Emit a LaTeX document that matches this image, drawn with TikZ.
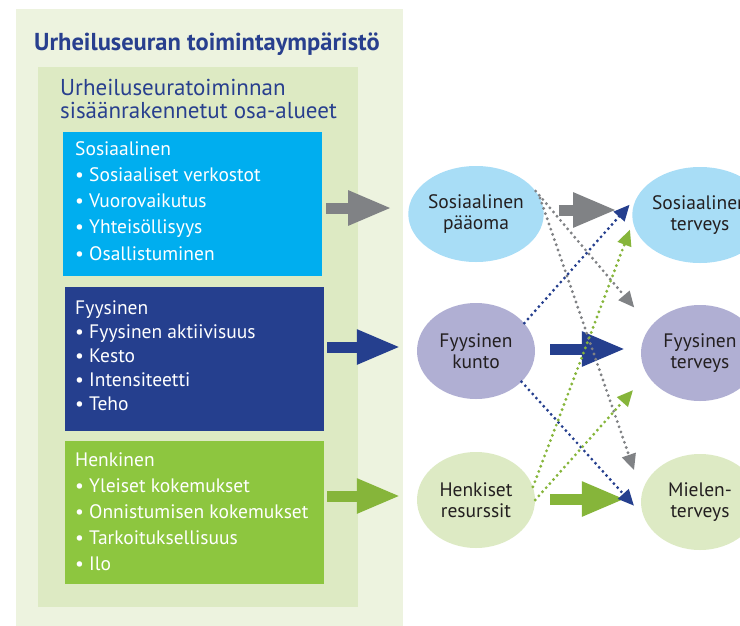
\documentclass[tikz,border=0pt]{standalone}
\usepackage{fontspec}
\setmainfont{PT Sans}
\usetikzlibrary{shapes.geometric,arrows.meta}
\definecolor{envbg}{HTML}{EDF3DF}
\definecolor{areabg}{HTML}{DDEAC3}
\definecolor{socblue}{HTML}{00AEEF}
\definecolor{physblue}{HTML}{253F8E}
\definecolor{mentgreen}{HTML}{8DC63F}
\definecolor{socell}{HTML}{A8DDF6}
\definecolor{physell}{HTML}{B0AFD3}
\definecolor{mentell}{HTML}{DDEAC4}
\definecolor{arrgray}{HTML}{808285}
\definecolor{arrgreen}{HTML}{86B53A}
\definecolor{titleblue}{HTML}{283F8E}
\definecolor{inktext}{HTML}{231F20}

\begin{document}
\begin{tikzpicture}[x=1pt,y=-1pt,
	panel/.style={rectangle,inner sep=0,anchor=north west},
	cattext/.style={anchor=base west,inner sep=0,align=left,text=white},
	ell/.style={ellipse,minimum width=118,minimum height=96,inner sep=0,align=center,text=inktext,font=\fontsize{19.5}{21}\selectfont},
	blockarrow/.style={line width=11pt,-{Triangle[length=44pt,width=32pt]}},
	dotarrow/.style={line width=3.2pt,line cap=round,dash pattern=on 0pt off 5.5pt,-{Triangle[length=16pt,width=14pt]}}]
	\useasboundingbox (0,0) rectangle (740,625);
	\node[panel,fill=envbg,minimum width=387,minimum height=620] (env) at (16,9) {};
	\node[panel,fill=areabg,minimum width=320,minimum height=540] (area) at (38,67) {};
	\node[anchor=base west,inner sep=0,text=titleblue,font=\bfseries\fontsize{24.5}{28}\selectfont] (title) at (34,50) {Urheiluseuran toimintaympäristö};
	\node[anchor=base west,inner sep=0,align=left,text=titleblue,font=\fontsize{23}{23}\selectfont] (subtitle) at (60,118) {Urheiluseuratoiminnan\\sisäänrakennetut osa-alueet};
	\node[panel,fill=socblue,minimum width=259,minimum height=144] (sosbox) at (63,132) {};
	\node[panel,fill=physblue,minimum width=259,minimum height=144] (fysbox) at (65,287) {};
	\node[panel,fill=mentgreen,minimum width=259,minimum height=143] (henbox) at (65,441) {};
	\node[cattext,font=\fontsize{19.5}{26.25}\selectfont] (sostext) at (75,260) {Sosiaalinen\\• Sosiaaliset verkostot\\• Vuorovaikutus\\• Yhteisöllisyys\\• Osallistuminen};
	\node[cattext,font=\fontsize{19.5}{24}\selectfont] (fystext) at (75,410) {Fyysinen\\• Fyysinen aktiivisuus\\• Kesto\\• Intensiteetti\\• Teho};
	\node[cattext,font=\fontsize{19.5}{26}\selectfont] (hentext) at (75,570) {Henkinen\\• Yleiset kokemukset\\• Onnistumisen kokemukset\\• Tarkoituksellisuus\\• Ilo};
	\node[ell,fill=socell] (sos) at (476,214) {Sosiaalinen\\pääoma};
	\node[ell,fill=physell] (fys) at (476,351) {Fyysinen\\kunto};
	\node[ell,fill=mentell] (hen) at (476,500) {Henkiset\\resurssit};
	\node[ell,fill=socell] (sost) at (700,215) {Sosiaalinen\\terveys};
	\node[ell,fill=physell] (fyst) at (700,353) {Fyysinen\\terveys};
	\node[ell,fill=mentell] (mielt) at (700,502) {Mielen-\\terveys};
	\draw[blockarrow,arrgray,shorten <=4pt,shorten >=16pt,transform canvas={yshift=6pt}] (sosbox.east |- sos.west) -- (sos.west);
	\draw[blockarrow,physblue,shorten <=3pt,shorten >=16pt,transform canvas={yshift=4pt}] (fysbox.east |- fys.west) -- (fys.west);
	\draw[blockarrow,arrgreen,shorten <=3pt,shorten >=16pt,transform canvas={yshift=4pt}] (henbox.east |- hen.west) -- (hen.west);
	\draw[blockarrow,arrgray,shorten <=15pt,shorten >=15pt,transform canvas={yshift=4pt}] (sos.east) -- (sos.east -| sost.west);
	\draw[blockarrow,physblue,shorten <=15pt,shorten >=15pt,transform canvas={yshift=2pt}] (fys.east) -- (fys.east -| fyst.west);
	\draw[blockarrow,arrgreen,shorten <=15pt,shorten >=15pt,transform canvas={yshift=1pt}] (hen.east) -- (hen.east -| mielt.west);
	\draw[dotarrow,arrgray,shorten >=25pt] (sos.21) -- (fyst.152);
	\draw[dotarrow,arrgray,shorten >=24pt] (sos.14) -- (mielt.171);
	\draw[dotarrow,physblue,shorten >=13pt] (fys.30) -- (sost.162);
	\draw[dotarrow,physblue,shorten >=14pt] (fys.326) -- (mielt.194);
	\draw[dotarrow,arrgreen,shorten >=8pt] (hen.13) -- (sost.186);
	\draw[dotarrow,arrgreen,shorten >=21pt] (hen.east) -- (fyst.202);
\end{tikzpicture}
\end{document}
